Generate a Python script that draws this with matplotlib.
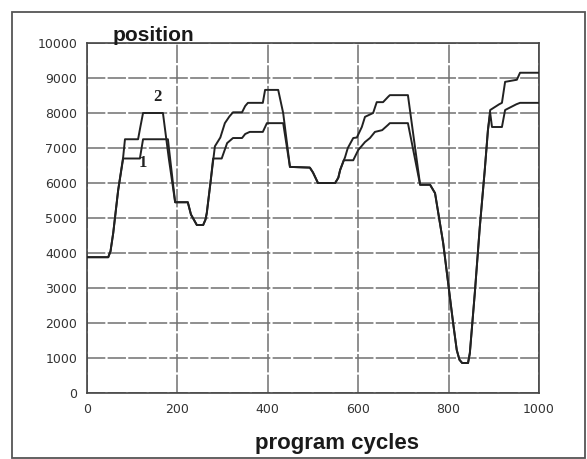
import matplotlib.pyplot as plt
from matplotlib.patches import Rectangle

# position trace, run 2 (upper staircase)
x2 = [0, 47, 52, 58, 69, 80, 84, 113, 118, 124, 168, 181, 195, 223, 230, 243, 257,
      262, 265, 274, 283, 295, 305, 315, 323, 343, 350, 356, 389, 394, 423, 434, 449,
      493, 500, 511, 549, 556, 560, 571, 577, 589, 597, 608, 615, 633, 641, 655, 666,
      670, 710, 737, 759, 770, 788, 810, 818, 824, 830, 843, 847, 858, 869, 880, 887,
      892, 912, 918, 925, 951, 958, 1000]
y2 = [3880, 3880, 4050, 4570, 5800, 6740, 7250, 7250, 7600, 8000, 8000, 6700, 5450,
      5450, 5100, 4800, 4800, 4950, 5140, 6100, 7050, 7300, 7710, 7900, 8020, 8020,
      8200, 8290, 8290, 8660, 8660, 8000, 6460, 6440, 6300, 6000, 6000, 6150, 6370,
      6740, 7000, 7285, 7300, 7600, 7890, 8000, 8310, 8310, 8460, 8510, 8510, 5950,
      5950, 5710, 4285, 2000, 1230, 950, 857, 857, 1140, 2860, 4740, 6370, 7510, 8085,
      8250, 8290, 8890, 8950, 9150, 9150]

# position trace, run 1 (lower staircase)
x1 = [0, 47, 52, 58, 69, 80, 117, 124, 179, 195, 223, 230, 243, 257, 262, 265, 274,
      279, 298, 310, 323, 343, 350, 360, 389, 398, 434, 449, 493, 500, 511, 549, 556,
      560, 568, 589, 600, 615, 626, 637, 653, 666, 670, 710, 737, 759, 770, 788, 810,
      818, 824, 830, 843, 847, 858, 869, 880, 887, 892, 896, 918, 925, 950, 958, 1000]
y1 = [3880, 3880, 4050, 4570, 5800, 6700, 6700, 7250, 7250, 5450, 5450, 5100, 4800,
      4800, 4950, 5140, 6100, 6700, 6700, 7140, 7285, 7285, 7400, 7460, 7460, 7710,
      7710, 6460, 6440, 6300, 6000, 6000, 6150, 6370, 6650, 6650, 6940, 7170, 7285,
      7460, 7510, 7660, 7710, 7710, 5950, 5950, 5710, 4285, 2000, 1230, 950, 857, 857,
      1140, 2860, 4740, 6370, 7510, 8000, 7600, 7600, 8085, 8250, 8290, 8290]

x_ticks = [0, 200, 400, 600, 800, 1000]
y_ticks = list(range(0, 10001, 1000))

fig = plt.figure(figsize=(5.87, 4.59), dpi=100)
ax = fig.add_axes([87/587, 1-393/459, (539-87)/587, (393-43)/459])

ax.plot(x2, y2, color="#222222", lw=1.4, zorder=3)
ax.plot(x1, y1, color="#222222", lw=1.4, zorder=3)

ax.set_xlim(0, 1000)
ax.set_ylim(0, 10000)
ax.set_xticks(x_ticks)
ax.set_yticks(y_ticks)
ax.tick_params(length=0, labelsize=9, labelcolor="#333333", pad=7)
ax.grid(True, color="#707070", lw=1.1, linestyle=(0, (12, 1.5)))
for s in ax.spines.values():
    s.set_color("#444444")
    s.set_linewidth(1.2)

# curve labels
ax.text(155, 8450, "2", fontsize=12, fontweight="bold", family="Liberation Serif",
        ha="center", va="center", color="#222222")
ax.text(124, 6570, "1", fontsize=12, fontweight="bold", family="Liberation Serif",
        ha="center", va="center", color="#222222")

fig.text(153/587, 1-41/459, "position", fontsize=15, fontweight="bold",
         family="Liberation Sans", ha="center", va="baseline", color="#1a1a1a")
fig.text(337/587, 1-449/459, "program cycles", fontsize=16, fontweight="bold",
         family="Liberation Sans", ha="center", va="baseline", color="#1a1a1a")

# outer frame
fig.add_artist(Rectangle((12/587, 1/459), (585-12)/587, (446)/459,
                         transform=fig.transFigure, fill=False,
                         edgecolor="#555555", lw=1.3))

fig.savefig("out.png", dpi=100)
